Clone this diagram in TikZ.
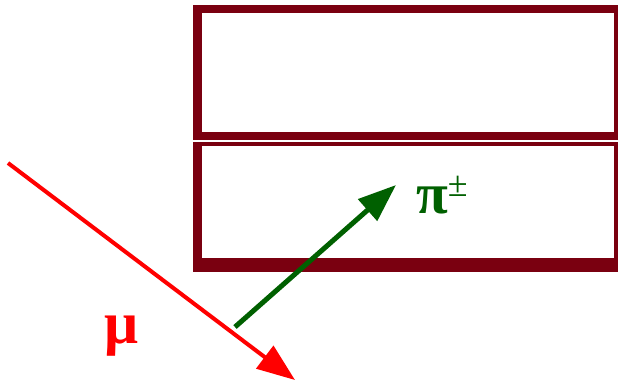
\documentclass[tikz,border=0pt]{standalone}
\usepackage{fontspec}
\setmainfont{Liberation Serif}
\usetikzlibrary{arrows.meta}
\definecolor{maroon}{RGB}{122,0,16}
\definecolor{muonred}{RGB}{255,0,0}
\definecolor{piongreen}{RGB}{0,96,0}
\tikzset{
  frame/.style={fill=maroon},
  hole/.style={fill=white},
  track/.style={line width=#1, -{Triangle[length=38pt,width=28pt]}},
}
\begin{document}
\begin{tikzpicture}[x=1pt,y=-1pt]
\useasboundingbox (0,0) rectangle (618,385);
% upper detector box
\fill[frame] (193,5) rectangle (618,140);
\fill[hole] (202,13) rectangle (614,132);
% lower detector box
\fill[frame] (193,142) rectangle (618,272);
\fill[hole] (202,146) rectangle (614,258);
% tracks
\coordinate (muin) at (8,163);
\coordinate (muout) at (295,380);
\coordinate (piin) at (235,327);
\coordinate (piout) at (396,185);
\draw[track=4pt, muonred] (muin) -- (muout);
\draw[track=5pt, piongreen] (piin) -- (piout);
% labels
\node[text=muonred, font=\fontsize{60}{64}\selectfont\bfseries] (mu) at (122,336) {μ};
\node[text=piongreen, font=\fontsize{58}{62}\selectfont\bfseries, anchor=base west, inner sep=0pt] (pi) at (416,213) {π\raisebox{17pt}{\fontsize{36}{38}\selectfont\mdseries ±}};
\end{tikzpicture}
\end{document}
